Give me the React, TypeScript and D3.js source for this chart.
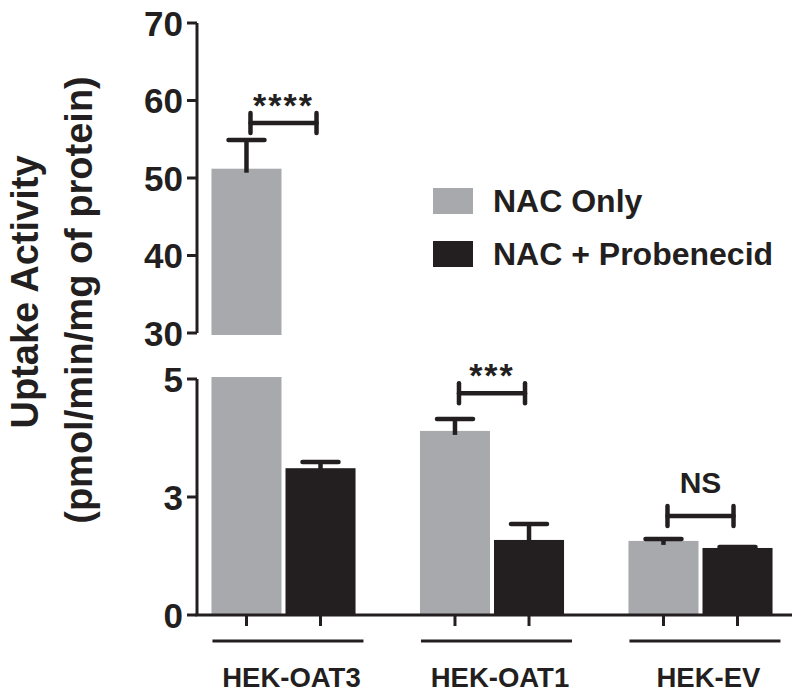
import React from "react";
import * as d3 from "d3";

const categories = ["HEK-OAT3", "HEK-OAT1", "HEK-EV"];
const seriesNames = ["NAC Only", "NAC + Probenecid"];
const nacOnly = [51.2, 3.9, 1.57];
const nacOnlyErr = [3.7, 0.25, 0.04];
const nacProb = [3.11, 1.59, 1.42];
const nacProbErr = [0.13, 0.34, 0.02];
const upperTicks = [30, 40, 50, 60, 70];
const upperTickLabels = ["30", "40", "50", "60", "70"];
const lowerTicks = [0, 2.5, 5];
const lowerTickLabels = ["0", "3", "5"];
const sigLabels = ["****", "***", "NS"];
const sigLevels = [57.1, 4.7, 2.1];

const GRAY = "#a8a9ad";
const DARK = "#231f20";
const FONT = "'Liberation Sans', Arial, Helvetica, sans-serif";

export default function App() {
  const axisX = 197;
  const yUpper = d3.scaleLinear().domain([30, 70]).range([333, 23]);
  const yLower = d3.scaleLinear().domain([0, 5]).range([615, 379]);
  const x0 = d3
    .scaleBand<string>()
    .domain(categories)
    .range([179.25, 804.75])
    .paddingInner(0.309)
    .paddingOuter(0.1545);
  const x1 = d3
    .scaleBand<string>()
    .domain(seriesNames)
    .range([0, x0.bandwidth()])
    .paddingInner(0.054);
  const colors = d3.scaleOrdinal<string, string>().domain(seriesNames).range([GRAY, DARK]);

  const seriesVals = [nacOnly, nacProb];
  const seriesErr = [nacOnlyErr, nacProbErr];

  const isUpper = (v: number) => v > 5;
  const yOf = (v: number) => (isUpper(v) ? yUpper(v) : yLower(v));

  const bars: JSX.Element[] = [];
  const errs: JSX.Element[] = [];
  const xticks: JSX.Element[] = [];
  seriesNames.forEach((s, si) => {
    categories.forEach((c, ci) => {
      const v = seriesVals[si][ci];
      const e = seriesErr[si][ci];
      const x = (x0(c) as number) + (x1(s) as number);
      const w = x1.bandwidth();
      const cx = x + w / 2;
      const lowTop = isUpper(v) ? yLower(5) - 2 : yLower(v);
      bars.push(
        <rect key={`bl-${s}-${c}`} x={x} y={lowTop} width={w} height={yLower(0) - lowTop} fill={colors(s)} />
      );
      if (isUpper(v)) {
        const top = yUpper(v);
        bars.push(
          <rect key={`bu-${s}-${c}`} x={x} y={top} width={w} height={yUpper(30) + 2 - top} fill={colors(s)} />
        );
      }
      const yTop = yOf(v);
      const yCap = yOf(v + e);
      errs.push(
        <g key={`e-${s}-${c}`} stroke={DARK} strokeWidth={4.5}>
          <line x1={cx} x2={cx} y1={yTop + 4} y2={yCap} />
          <line x1={cx - 18} x2={cx + 18} y1={yCap} y2={yCap} strokeLinecap="round" />
        </g>
      );
      xticks.push(
        <line key={`xt-${s}-${c}`} x1={cx} x2={cx} y1={yLower(0)} y2={yLower(0) + 11} stroke={DARK} strokeWidth={3} />
      );
    });
  });

  const brackets = categories.map((c, ci) => {
    const xa = (x0(c) as number) + (x1(seriesNames[0]) as number) + x1.bandwidth() / 2 + 4;
    const xb = (x0(c) as number) + (x1(seriesNames[1]) as number) + x1.bandwidth() / 2 - 4;
    const lvl = sigLevels[ci];
    const y = isUpper(lvl) ? yUpper(lvl) : yLower(lvl);
    const lab = sigLabels[ci];
    const isStar = lab.startsWith("*");
    return (
      <g key={`br-${c}`}>
        <g stroke={DARK} strokeWidth={4.5} strokeLinecap="round">
          <line x1={xa} x2={xb} y1={y} y2={y} />
          <line x1={xa} x2={xa} y1={y - 10} y2={y + 10} />
          <line x1={xb} x2={xb} y1={y - 10} y2={y + 10} />
        </g>
        <text
          x={(xa + xb) / 2}
          y={isStar ? y - 6 : y - 23}
          textAnchor="middle"
          fontFamily={FONT}
          fontWeight="bold"
          fontSize={isStar ? 34 : 30}
          letterSpacing={isStar ? 2 : 0}
          fill={DARK}
        >
          {lab}
        </text>
      </g>
    );
  });

  const groupLines = categories.map((c) => {
    const xs = x0(c) as number;
    return (
      <g key={`gl-${c}`}>
        <line x1={xs + 1} x2={xs + 152} y1={641} y2={641} stroke={DARK} strokeWidth={3} />
        <text
          x={xs + 80}
          y={687}
          textAnchor="middle"
          fontFamily={FONT}
          fontWeight="bold"
          fontSize={27.5}
          fill={DARK}
        >
          {c}
        </text>
      </g>
    );
  });

  const tickFont = 35;

  return (
    <svg
      width={800}
      height={698}
      style={{ position: "absolute", left: 0, top: 0, background: "#fff" }}
    >
      <rect x={0} y={0} width={800} height={698} fill="#fff" />
      {bars}
      <line x1={axisX} x2={axisX} y1={yUpper(70)} y2={yUpper(30)} stroke={DARK} strokeWidth={3} />
      {upperTicks.map((t, i) => (
        <g key={`ut-${t}`}>
          <line x1={axisX - 10} x2={axisX} y1={yUpper(t)} y2={yUpper(t)} stroke={DARK} strokeWidth={3} />
          <text
            x={axisX - 14}
            y={yUpper(t) + tickFont * 0.358}
            textAnchor="end"
            fontFamily={FONT}
            fontWeight="bold"
            fontSize={tickFont}
            fill={DARK}
          >
            {upperTickLabels[i]}
          </text>
        </g>
      ))}
      <line x1={axisX} x2={axisX} y1={yLower(5)} y2={yLower(0)} stroke={DARK} strokeWidth={3} />
      <line x1={axisX - 1.5} x2={792} y1={yLower(0)} y2={yLower(0)} stroke={DARK} strokeWidth={3} />
      {lowerTicks.map((t, i) => (
        <g key={`lt-${t}`}>
          <line x1={axisX - 10} x2={axisX} y1={yLower(t)} y2={yLower(t)} stroke={DARK} strokeWidth={3} />
          <text
            x={axisX - 14}
            y={yLower(t) + tickFont * 0.358}
            textAnchor="end"
            fontFamily={FONT}
            fontWeight="bold"
            fontSize={tickFont}
            fill={DARK}
          >
            {lowerTickLabels[i]}
          </text>
        </g>
      ))}
      {errs}
      {xticks}
      {brackets}
      {groupLines}
      {seriesNames.map((s, i) => (
        <g key={`lg-${s}`}>
          <rect x={433} y={188 + i * 53} width={40} height={26} fill={colors(s)} />
          <text
            x={493}
            y={212 + i * 53}
            fontFamily={FONT}
            fontWeight="bold"
            fontSize={32}
            fill={DARK}
          >
            {s}
          </text>
        </g>
      ))}
      <text
        transform={`translate(38,292) rotate(-90)`}
        textAnchor="middle"
        fontFamily={FONT}
        fontWeight="bold"
        fontSize={38}
        fill={DARK}
      >
        Uptake Activity
      </text>
      <text
        transform={`translate(92,300) rotate(-90)`}
        textAnchor="middle"
        fontFamily={FONT}
        fontWeight="bold"
        fontSize={38}
        fill={DARK}
      >
        (pmol/min/mg of protein)
      </text>
    </svg>
  );
}
